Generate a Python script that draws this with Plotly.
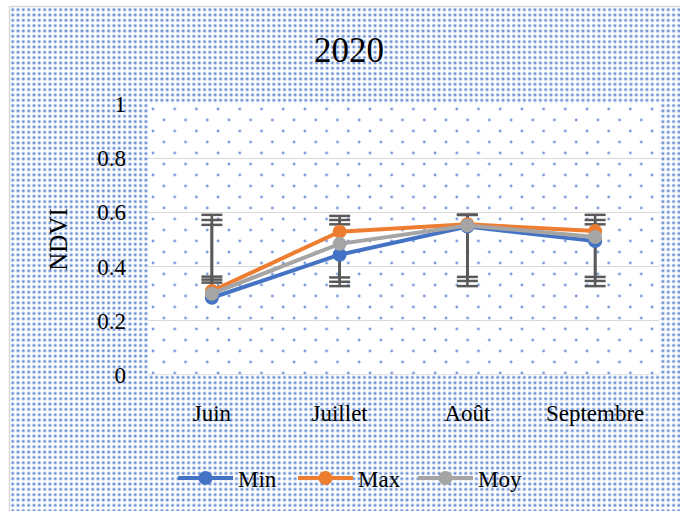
import base64
import plotly.graph_objects as go

# ---- data ----
months = ["Juin", "Juillet", "Août", "Septembre"]
ndvi_min = [0.285, 0.444, 0.548, 0.494]
ndvi_max = [0.310, 0.529, 0.556, 0.531]
ndvi_moy = [0.300, 0.484, 0.552, 0.509]
# custom error bar end points (upper / lower caps)
err_hi_min = [0.554, 0.556, 0.591, 0.556]
err_lo_min = [0.341, 0.328, 0.328, 0.328]
err_hi_max = [0.591, 0.587, 0.591, 0.591]
err_lo_max = [0.363, 0.360, 0.362, 0.362]
err_hi_moy = [0.572, 0.572, 0.591, 0.572]
err_lo_moy = [0.352, 0.344, 0.347, 0.347]
y_ticks = [0, 0.2, 0.4, 0.6, 0.8, 1]

# ---- layout geometry (pixels) ----
W, H = 680, 511
L, R, T, B = 148, 21, 104, 136
PW, PH = W - L - R, H - T - B

FONT = "Liberation Serif, Times New Roman, serif"
BLUE, ORANGE, GREY, ERR = "#4472C4", "#ED7D31", "#A5A5A5", "#595959"


def svg_uri(svg):
    return "data:image/svg+xml;base64," + base64.b64encode(svg.encode()).decode()


# dense dotted background for the chart area
cw, ch = W - 10, H - 7
paper_svg = f'''<svg xmlns="http://www.w3.org/2000/svg" width="{cw}" height="{ch}" viewBox="0 0 {cw} {ch}" preserveAspectRatio="none">
<defs><pattern id="p" width="5.33" height="5.33" patternUnits="userSpaceOnUse">
<rect width="5.33" height="5.33" fill="#ffffff"/>
<circle cx="2.66" cy="2.66" r="2.0" fill="#c6d4f0"/>
<circle cx="2.66" cy="2.66" r="1.2" fill="#668dd6"/>
</pattern></defs>
<rect width="{cw}" height="{ch}" fill="url(#p)"/></svg>'''

# sparse dotted background for the plot area
plot_svg = f'''<svg xmlns="http://www.w3.org/2000/svg" width="{PW}" height="{PH}" viewBox="0 0 {PW} {PH}" preserveAspectRatio="none">
<defs><pattern id="q" width="21.7" height="22" patternUnits="userSpaceOnUse">
<rect width="21.7" height="22" fill="#ffffff"/>
<circle cx="5" cy="5" r="1.4" fill="#7b9bdb"/>
<circle cx="15.85" cy="16" r="1.4" fill="#7b9bdb"/>
</pattern></defs>
<rect width="{PW}" height="{PH}" fill="url(#q)"/></svg>'''


def px_x(p):
    return (p - L) / PW


def px_y(p):
    return (H - B - p) / PH


fig = go.Figure()

# error bars (vertical segments + caps) drawn beneath the series
series = [
    (ndvi_min, err_lo_min, err_hi_min),
    (ndvi_max, err_lo_max, err_hi_max),
    (ndvi_moy, err_lo_moy, err_hi_moy),
]
for vals, lo, hi in series:
    xs, ys = [], []
    for m, v, a, b in zip(months, vals, lo, hi):
        xs += [m, m, None]
        ys += [min(v, a, b), max(v, a, b), None]
    fig.add_trace(go.Scatter(x=xs, y=ys, mode="lines",
                             line=dict(color=ERR, width=2.5),
                             showlegend=False, hoverinfo="skip"))
for vals, lo, hi in series:
    fig.add_trace(go.Scatter(x=months + months, y=lo + hi, mode="markers",
                             marker=dict(symbol="line-ew", size=15,
                                         line=dict(color=ERR, width=2.5)),
                             showlegend=False, hoverinfo="skip"))

for name, vals, col in [("Min", ndvi_min, BLUE), ("Max", ndvi_max, ORANGE), ("Moy", ndvi_moy, GREY)]:
    fig.add_trace(go.Scatter(x=months, y=vals, name=name, mode="lines+markers",
                             line=dict(color=col, width=4),
                             marker=dict(color=col, size=14)))

fig.update_layout(
    width=W, height=H,
    margin=dict(l=L, r=R, t=T, b=B, autoexpand=False),
    paper_bgcolor="#ffffff",
    plot_bgcolor="rgba(0,0,0,0)",
    font=dict(family=FONT, size=24, color="#000000"),
    title=dict(text="2020", x=349 / W, xref="container", xanchor="center",
               y=1 - 50 / H, yref="container", yanchor="middle",
               font=dict(family=FONT, size=35, color="#000000")),
    xaxis=dict(categoryorder="array", categoryarray=months,
               range=[-0.5, len(months) - 0.5],
               showgrid=False, zeroline=False, showline=False,
               ticks="", ticklabelstandoff=22, tickangle=0,
               automargin=False,
               tickfont=dict(family=FONT, size=23)),
    yaxis=dict(range=[0, 1], tickvals=y_ticks,
               ticktext=[f"{v:g}" for v in y_ticks],
               showgrid=True, gridcolor="#d9d9d9", gridwidth=1.3,
               zeroline=False, showline=False, ticks="",
               ticklabelstandoff=21, automargin=False,
               tickfont=dict(family=FONT, size=23),
               title=dict(text="NDVI", standoff=22,
                          font=dict(family=FONT, size=25))),
    legend=dict(orientation="h", x=353 / W, xref="container", xanchor="center",
                y=1 - 478 / H, yref="container", yanchor="middle",
                bgcolor="rgba(0,0,0,0)", entrywidth=50, entrywidthmode="pixels",
                itemwidth=55,
                font=dict(family=FONT, size=23)),
    images=[
        dict(source=svg_uri(paper_svg), xref="paper", yref="paper",
             x=px_x(10), y=px_y(7), sizex=cw / PW, sizey=ch / PH,
             xanchor="left", yanchor="top", sizing="stretch", layer="below"),
        dict(source=svg_uri(plot_svg), xref="paper", yref="paper",
             x=0, y=1, sizex=1, sizey=1,
             xanchor="left", yanchor="top", sizing="stretch", layer="below"),
    ],
    shapes=[
        dict(type="rect", xref="paper", yref="paper",
             x0=px_x(9.5), x1=px_x(W + 5), y0=px_y(6.5), y1=px_y(H + 5),
             line=dict(color="#d9d9d9", width=1.5), layer="below"),
        dict(type="line", xref="paper", yref="y", x0=0, x1=1, y0=0, y1=0,
             line=dict(color="#d9d9d9", width=1.3), layer="below"),
    ],
)

fig.write_html("out.html")
